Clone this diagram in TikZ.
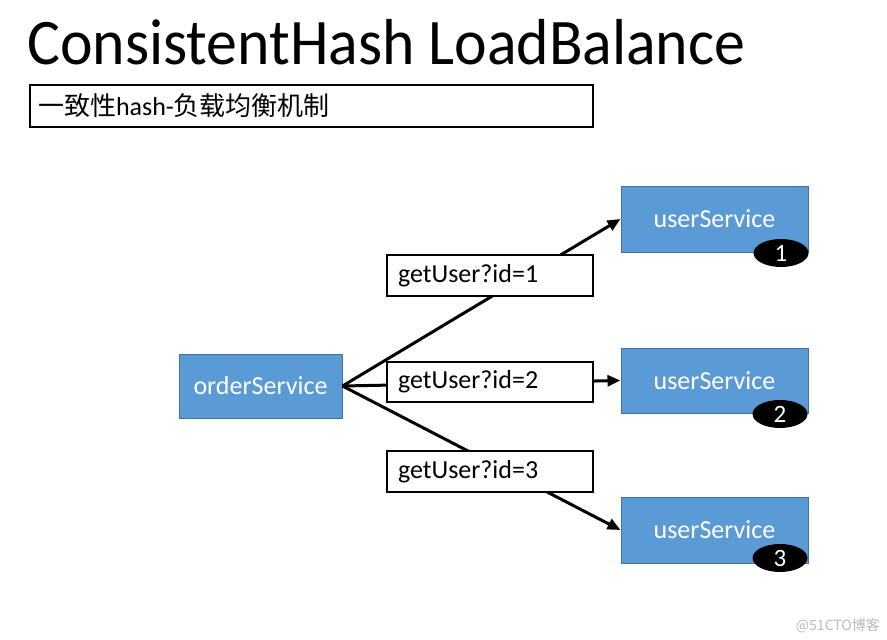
\documentclass[tikz,border=0pt]{standalone}
\usepackage{fontspec}
\setmainfont{Carlito}
\newfontfamily\cjk{Noto Sans CJK SC}
\usetikzlibrary{arrows.meta,shapes.geometric}
\definecolor{svcblue}{HTML}{5B9BD5}
\definecolor{svcedge}{HTML}{41719C}
\tikzset{
  svc/.style={draw=svcedge, line width=1pt, fill=svcblue, text=white, inner sep=0pt,
    font=\fontsize{26}{30}\selectfont},
  lab/.style={draw=black, line width=2pt, fill=white, inner xsep=11pt, inner ysep=0pt,
    text width=184pt, minimum height=41pt, align=left, font=\fontsize{26}{30}\selectfont},
  num/.style={ellipse, fill=black, text=white, inner sep=0pt, minimum width=55pt,
    minimum height=28pt, font=\fontsize{25}{26}\selectfont},
  conn/.style={line width=3pt, -{Triangle[length=13pt,width=11pt]}}
}
\begin{document}
\begin{tikzpicture}[x=1pt,y=-1pt]
\useasboundingbox[fill=white] (0,0) rectangle (887,640);
\node[anchor=base west, inner sep=0pt, font=\fontsize{65}{70}\selectfont] (title) at (27,64) {\scalebox{0.95}[1]{ConsistentHash LoadBalance}};
\node[draw=black, line width=2pt, inner xsep=8pt, inner ysep=0pt, text width=547pt, minimum height=42pt, align=left, font=\fontsize{26}{30}\selectfont] (sub) at (311.5,106) {{\cjk\fontsize{26}{30}\selectfont 一致性}hash-{\cjk\fontsize{26}{30}\selectfont 负载均衡机制}};
\node[svc, minimum width=163pt, minimum height=64pt] (o) at (260.5,386) {orderService};
\node[svc, minimum width=187pt, minimum height=66pt] (u1) at (714.5,219) {userService};
\node[svc, minimum width=187pt, minimum height=65pt] (u2) at (714.5,380.5) {userService};
\node[svc, minimum width=187pt, minimum height=66pt] (u3) at (714.5,530) {userService};
\node[num] (n1) at (781,253) {1};
\node[num] (n2) at (780,414) {2};
\node[num] (n3) at (780,558) {3};
\draw[conn] (o.east) -- (u1.west);
\draw[conn] (o.east) -- (u2.west);
\draw[conn] (o.east) -- (u3.west);
\node[lab] (l1) at (490,275.5) {getUser?id=1};
\node[lab, minimum height=40pt] (l2) at (490,382) {getUser?id=2};
\node[lab] (l3) at (490,471.5) {getUser?id=3};
\node[anchor=base east, inner sep=0pt, text=black!27, font=\cjk\fontsize{14}{16}\selectfont] (wm) at (880,630) {@51CTO博客};
\end{tikzpicture}
\end{document}
